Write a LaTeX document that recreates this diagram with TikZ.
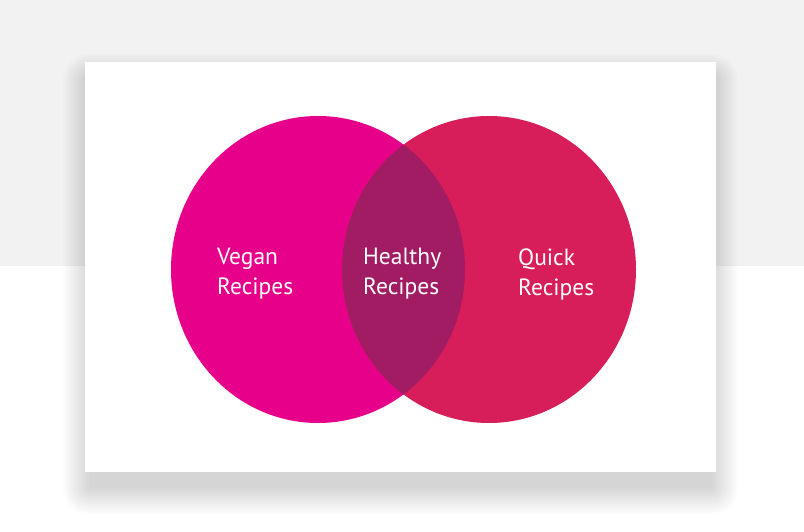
\documentclass[tikz,border=0pt]{standalone}
\usepackage{fontspec}
\setsansfont{PT Sans}
\definecolor{veganpink}{RGB}{231,0,138}
\definecolor{quickred}{RGB}{215,29,90}
\definecolor{healthyplum}{RGB}{161,28,98}
\definecolor{backgray}{RGB}{242,242,242}

\begin{document}
\begin{tikzpicture}[x=1pt,y=-1pt,
    setlabel/.style={text=white, font=\sffamily\fontsize{23.5}{30}\selectfont, align=left, anchor=west, inner sep=0pt}]
    \useasboundingbox (0,0) rectangle (804,532);
    \fill[backgray] (0,0) rectangle (804,266);
    \fill[white] (0,266) rectangle (804,532);
    % card with soft shadow
    \foreach \e in {0,2,...,26}
      \fill[black, opacity=0.011, rounded corners=\e] (85+4-\e,62+18-\e) rectangle (716-4+\e,472+16+\e);
    \fill[white] (85,62) rectangle (716,472);
    % sets
    \fill[veganpink] (318,269.5) ellipse (147 and 153.5);
    \fill[quickred] (489,269.5) ellipse (147 and 153.5);
    \begin{scope}
      \clip (318,269.5) ellipse (147 and 153.5);
      \fill[healthyplum] (489,269.5) ellipse (147 and 153.5);
    \end{scope}
    \node[setlabel] (vegan) at (217,274) {Vegan\\Recipes};
    \node[setlabel] (healthy) at (363,274) {Healthy\\Recipes};
    \node[setlabel] (quick) at (518,274) {Quick\\Recipes};
  \end{tikzpicture}
\end{document}
